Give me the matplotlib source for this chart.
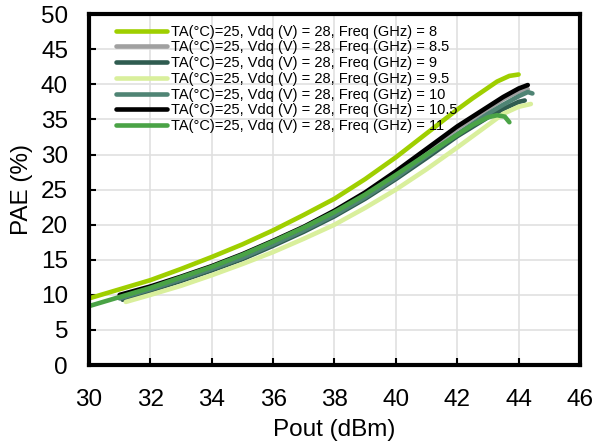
import matplotlib
matplotlib.use('Agg')
import matplotlib.pyplot as plt

plt.rcParams['font.family'] = ['Liberation Sans', 'DejaVu Sans']

freqs = ['8', '8.5', '9', '9.5', '10', '10.5', '11']
colors = ['#9fcf00', '#a0a0a0', '#2f5c50', '#d9ef9c', '#4f8474', '#000000', '#4aa346']

pout_8 = [30, 31, 32, 33, 34, 35, 36, 37, 38, 39, 40, 41, 42, 42.5, 43, 43.3, 43.7, 44.0]
pae_8 = [9.5, 10.8, 12.1, 13.7, 15.4, 17.2, 19.2, 21.4, 23.7, 26.5, 29.6, 33.0, 36.4, 38.0, 39.5, 40.4, 41.2, 41.4]

pout_85 = [31, 32, 33, 34, 35, 36, 37, 38, 39, 40, 41, 42, 43, 43.5, 44, 44.3]
pae_85 = [9.7, 10.9, 12.3, 13.8, 15.5, 17.4, 19.4, 21.7, 24.3, 27.3, 30.5, 33.7, 36.5, 37.9, 39.0, 39.3]

pout_9 = [31.1, 32, 33, 34, 35, 36, 37, 38, 39, 40, 41, 42, 43, 43.5, 44, 44.2]
pae_9 = [9.3, 10.6, 12.0, 13.5, 15.1, 17.0, 19.0, 21.2, 23.7, 26.5, 29.5, 32.6, 35.3, 36.5, 37.5, 37.7]

pout_95 = [31.2, 32, 33, 34, 35, 36, 37, 38, 39, 40, 41, 42, 43, 43.5, 44, 44.4]
pae_95 = [9.0, 10.0, 11.3, 12.8, 14.4, 16.1, 18.0, 20.0, 22.4, 25.0, 27.9, 31.0, 34.2, 35.8, 36.8, 37.2]

pout_10 = [31, 32, 33, 34, 35, 36, 37, 38, 39, 40, 41, 42, 43, 43.5, 44, 44.3, 44.45]
pae_10 = [9.5, 10.8, 12.2, 13.7, 15.3, 17.2, 19.2, 21.4, 23.9, 26.7, 29.8, 32.9, 35.8, 37.1, 38.3, 38.9, 38.7]

pout_105 = [31, 32, 33, 34, 35, 36, 37, 38, 39, 40, 41, 42, 43, 43.5, 44, 44.3]
pae_105 = [10.0, 11.2, 12.6, 14.1, 15.8, 17.7, 19.7, 22.0, 24.6, 27.6, 30.8, 34.0, 36.8, 38.2, 39.4, 39.9]

pout_11 = [30, 31, 32, 33, 34, 35, 36, 37, 38, 39, 40, 41, 42, 42.5, 43, 43.3, 43.55, 43.7]
pae_11 = [8.4, 9.7, 11.0, 12.5, 14.0, 15.7, 17.6, 19.6, 21.8, 24.3, 27.1, 30.0, 32.8, 34.2, 35.3, 35.6, 35.4, 34.6]

series_x = [pout_8, pout_85, pout_9, pout_95, pout_10, pout_105, pout_11]
series_y = [pae_8, pae_85, pae_9, pae_95, pae_10, pae_105, pae_11]

fig = plt.figure(figsize=(5.93, 4.42), dpi=100)
ax = fig.add_axes([0.150, 0.174, 0.828, 0.794])

for f, c, xs, ys in zip(freqs, colors, series_x, series_y):
    ax.plot(xs, ys, color=c, lw=3.3, solid_capstyle='round',
            label='TA(°C)=25, Vdq (V) = 28, Freq (GHz) = ' + f)

ax.set_xlim(30, 46)
ax.set_ylim(0, 50)
ax.set_xticks(range(30, 47, 2))
ax.set_yticks(range(0, 51, 5))
ax.grid(True, color='#e0e0e0', lw=1.2)
ax.set_axisbelow(True)
for s in ax.spines.values():
    s.set_linewidth(3)
ax.tick_params(direction='in', length=5, width=1.5, labelsize=17.5)
ax.tick_params(axis='x', pad=17)
ax.tick_params(axis='y', pad=15)

ax.set_xlabel('Pout (dBm)', fontsize=17.5, labelpad=6)
ax.set_ylabel('PAE (%)', fontsize=17.5, labelpad=6)

ax.legend(loc='upper left', bbox_to_anchor=(0.055, 0.97), frameon=False,
          fontsize=10.5, handlelength=3.5, handletextpad=0.28, labelspacing=0.12,
          borderaxespad=0, borderpad=0)

fig.savefig('out.png', dpi=100)
